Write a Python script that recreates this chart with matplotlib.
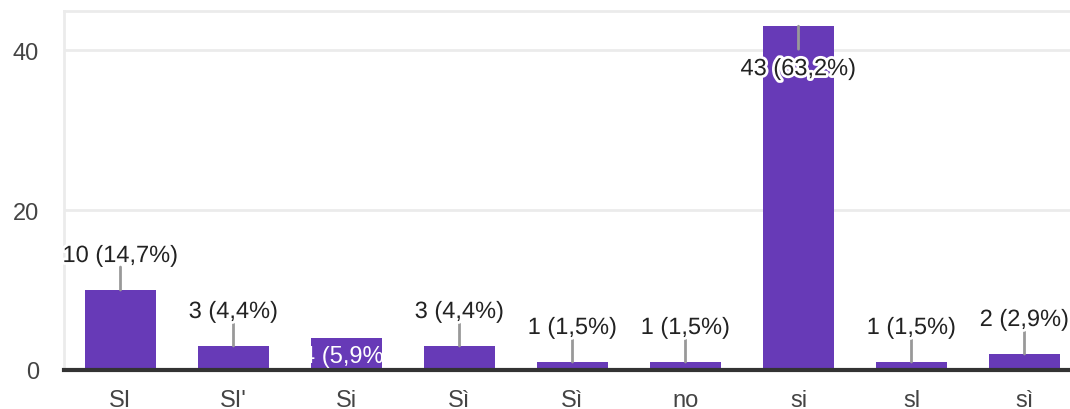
import matplotlib
matplotlib.use("Agg")
import matplotlib.pyplot as plt
import matplotlib.patheffects as pe

categories = ["SI", "SI'", "Si", "Sì", "Sì", "no", "si", "sl", "sì"]
values = [10, 3, 4, 3, 1, 1, 43, 1, 2]
labels = ["10 (14,7%)", "3 (4,4%)", "4 (5,9%)", "3 (4,4%)", "1 (1,5%)",
          "1 (1,5%)", "43 (63,2%)", "1 (1,5%)", "2 (2,9%)"]
placement = ["above", "above", "inside", "above", "above",
             "above", "below", "above", "above"]
yticks = [0, 20, 40]

plt.rcParams['font.family'] = ['Liberation Sans', 'DejaVu Sans']

fig = plt.figure(figsize=(10.7, 4.1), dpi=100)
ax = fig.add_axes([64/1070, 1 - 371/410, 1017/1070, 359/410])

purple = "#673AB7"
x = list(range(len(categories)))
bars = ax.bar(x, values, width=0.63, color=purple, zorder=2)

ax.set_xlim(-0.5, len(categories) - 0.5)
ax.set_ylim(0, 44.9)
ax.set_yticks(yticks)
ax.set_yticklabels([str(t) for t in yticks])
ax.set_xticks(x)
ax.set_xticklabels(categories)
ax.tick_params(axis='both', length=0, labelsize=17, colors="#444444")
ax.tick_params(axis='x', pad=14)
ax.tick_params(axis='y', pad=18)
ax.grid(axis='y', color="#ebebeb", lw=2, zorder=0)
for s in ["right", "bottom"]:
    ax.spines[s].set_visible(False)
for s in ["top", "left"]:
    ax.spines[s].set_color("#ebebeb")
    ax.spines[s].set_linewidth(2)
ax.axhline(0, color="#333333", lw=3, zorder=3, clip_on=False)

halo = [pe.withStroke(linewidth=4, foreground="white")]
for xi, v, lab, pl, b in zip(x, values, labels, placement, bars):
    if pl == "above":
        ax.annotate("", xy=(xi, v), xytext=(0, 23), textcoords="offset pixels",
                    arrowprops=dict(arrowstyle='-', color="#999999", lw=2,
                                    shrinkA=0, shrinkB=0), zorder=4)
        ax.annotate(lab, xy=(xi, v), xytext=(0, 34), textcoords="offset pixels",
                    ha="center", va="center", fontsize=17, color="#222222",
                    path_effects=halo, zorder=5)
    elif pl == "below":
        ax.annotate("", xy=(xi, v), xytext=(0, -23), textcoords="offset pixels",
                    arrowprops=dict(arrowstyle='-', color="#999999", lw=2,
                                    shrinkA=0, shrinkB=0), zorder=4)
        ax.annotate(lab, xy=(xi, v), xytext=(0, -43), textcoords="offset pixels",
                    ha="center", va="center", fontsize=17, color="#222222",
                    path_effects=halo, zorder=5)
    else:
        t = ax.annotate(lab, xy=(xi, v), xytext=(0, -18), textcoords="offset pixels",
                        ha="center", va="center", fontsize=17, color="white",
                        zorder=5)
        t.set_clip_path(b)

fig.savefig("out.png", dpi=100)
